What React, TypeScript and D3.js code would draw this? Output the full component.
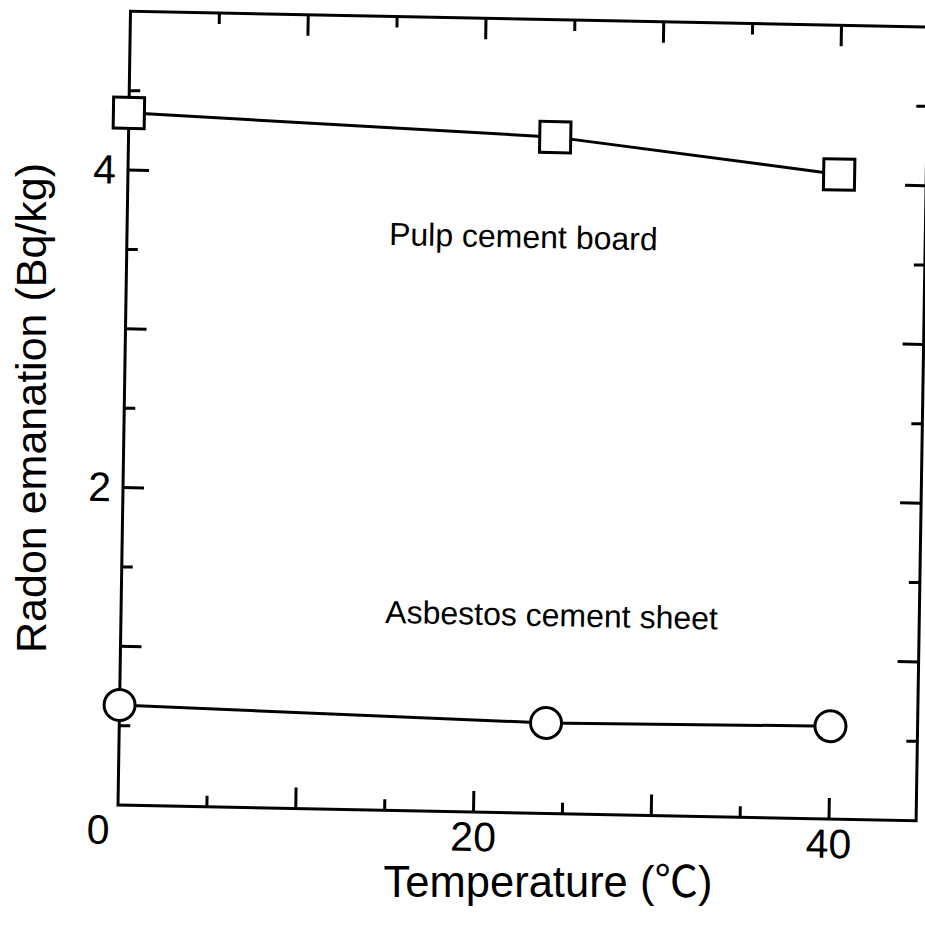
import React from "react";
import * as d3 from "d3";

// ---- data ----
const temperatures = [0, 24, 40];
const pulpCementBoard = [4.36, 4.26, 4.06];
const asbestosCementSheet = [0.63, 0.57, 0.585];

const xMajorTicks = [10, 20, 30, 40];
const xMinorTicks = [5, 15, 25, 35];
const xTickLabels = [20, 40];
const yMajorTicks = [1, 2, 3, 4];
const yMinorTicks = [0.5, 1.5, 2.5, 3.5, 4.5];
const yTickLabels = [2, 4];

const seriesLabels = [
  { text: "Pulp cement board", x: 14.74, y: 3.56 },
  { text: "Asbestos cement sheet", x: 14.86, y: 1.18 },
];

const W = 925;
const H = 945;
const FONT = "'Liberation Sans', Arial, Helvetica, sans-serif";

export default function App() {
  const xMaxFrame = 44.9;
  const xs = d3.scaleLinear().domain([0, 45]).range([0, 45 * 17.775]);
  const ys = d3.scaleLinear().domain([0, 5]).range([0, -793.75]);

  // scan skew / rotation of the original
  const M = "matrix(1 0.0197 -0.01575 1 118 805)";

  const line = d3
    .line<number>()
    .x((_, i) => xs(temperatures[i]))
    .y((d) => ys(d));

  const x0 = xs(0);
  const x1 = xs(xMaxFrame);
  const y0 = ys(0);
  const y1 = ys(5);
  const sw = 3;
  const majorLen = 21;
  const minorLen = 11;
  const sq = 31;
  const r = 15.5;

  return (
    <svg
      width={W}
      height={H}
      style={{ display: "block", background: "#fff", position: "absolute", left: 0, top: 0 }}
    >
      <rect x={0} y={0} width={W} height={H} fill="#fff" />
      <g transform={M} fontFamily={FONT} fill="#000">
        {/* frame */}
        <rect
          x={x0}
          y={y1}
          width={x1 - x0}
          height={y0 - y1}
          fill="none"
          stroke="#000"
          strokeWidth={sw}
        />
        {/* x ticks bottom & top */}
        {xMajorTicks.map((t) => (
          <g key={"xm" + t}>
            <line x1={xs(t)} x2={xs(t)} y1={y0} y2={y0 - majorLen} stroke="#000" strokeWidth={sw} />
            <line x1={xs(t)} x2={xs(t)} y1={y1} y2={y1 + majorLen} stroke="#000" strokeWidth={sw} />
          </g>
        ))}
        {xMinorTicks.map((t) => (
          <g key={"xn" + t}>
            <line x1={xs(t)} x2={xs(t)} y1={y0} y2={y0 - minorLen} stroke="#000" strokeWidth={sw} />
            <line x1={xs(t)} x2={xs(t)} y1={y1} y2={y1 + minorLen} stroke="#000" strokeWidth={sw} />
          </g>
        ))}
        {/* y ticks left & right */}
        {yMajorTicks.map((t) => (
          <g key={"ym" + t}>
            <line x1={x0} x2={x0 + majorLen} y1={ys(t)} y2={ys(t)} stroke="#000" strokeWidth={sw} />
            <line x1={x1} x2={x1 - majorLen} y1={ys(t)} y2={ys(t)} stroke="#000" strokeWidth={sw} />
          </g>
        ))}
        {yMinorTicks.map((t) => (
          <g key={"yn" + t}>
            <line x1={x0} x2={x0 + minorLen} y1={ys(t)} y2={ys(t)} stroke="#000" strokeWidth={sw} />
            <line x1={x1} x2={x1 - minorLen} y1={ys(t)} y2={ys(t)} stroke="#000" strokeWidth={sw} />
          </g>
        ))}
        {/* tick labels */}
        <text x={x0 - 8} y={y0 + 39} fontSize={41} textAnchor="end">
          0
        </text>
        {xTickLabels.map((t) => (
          <text key={"xl" + t} x={xs(t)} y={y0 + 39} fontSize={41} textAnchor="middle">
            {t}
          </text>
        ))}
        {yTickLabels.map((t) => (
          <text key={"yl" + t} x={x0 - 12} y={ys(t) + 14} fontSize={41} textAnchor="end">
            {t}
          </text>
        ))}
        {/* series lines */}
        <path d={line(pulpCementBoard) || ""} fill="none" stroke="#000" strokeWidth={sw} />
        <path d={line(asbestosCementSheet) || ""} fill="none" stroke="#000" strokeWidth={sw} />
        {/* markers */}
        {pulpCementBoard.map((v, i) => (
          <rect
            key={"sq" + i}
            x={xs(temperatures[i]) - sq / 2}
            y={ys(v) - sq / 2}
            width={sq}
            height={sq}
            fill="#fff"
            stroke="#000"
            strokeWidth={sw}
          />
        ))}
        {asbestosCementSheet.map((v, i) => (
          <circle
            key={"c" + i}
            cx={xs(temperatures[i])}
            cy={ys(v)}
            r={r}
            fill="#fff"
            stroke="#000"
            strokeWidth={sw}
          />
        ))}
        {/* series labels */}
        {seriesLabels.map((s) => (
          <text key={s.text} x={xs(s.x)} y={ys(s.y)} fontSize={32}>
            {s.text}
          </text>
        ))}
      </g>
      {/* axis titles */}
      <text x={548} y={897} fontSize={43.5} textAnchor="middle" fontFamily={FONT}>
        Temperature (
        <tspan fontFamily="'Noto Sans CJK JP', 'DejaVu Sans', sans-serif">℃</tspan>)
      </text>
      <text
        transform="translate(46, 408) rotate(-90)"
        fontSize={43}
        textAnchor="middle"
        fontFamily={FONT}
      >
        Radon emanation (Bq/kg)
      </text>
    </svg>
  );
}
